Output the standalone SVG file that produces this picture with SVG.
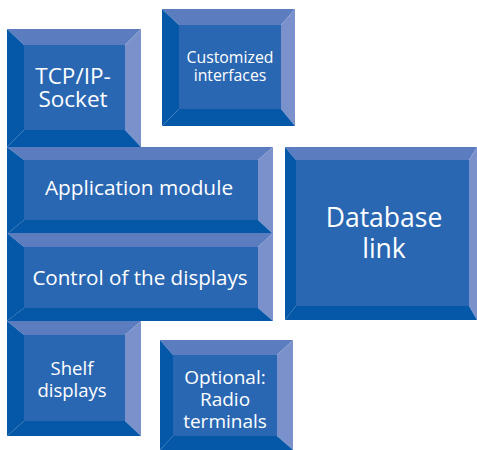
<svg xmlns="http://www.w3.org/2000/svg" width="477" height="450" viewBox="0 0 477 450">
<style>
.t{fill:#5b7dbf}.r{fill:#7a91cb}.b{fill:#0557a8}.l{fill:#0557a8}.f{fill:#2a67b3}
text{font-family:"Open Sans","Noto Sans","Liberation Sans",sans-serif;fill:#ffffff;text-anchor:middle}
</style>
<rect width="477" height="450" fill="#ffffff"/>
<g id="tcp">
<polygon class="t" points="7,29 141,29 125,45 24,45"/>
<polygon class="r" points="141,29 141,147 125,130 125,45"/>
<polygon class="b" points="7,147 141,147 125,130 24,130"/>
<polygon class="l" points="7,29 24,45 24,130 7,147"/>
<rect class="f" x="24" y="45" width="101" height="85"/>
<text font-size="22.5"><tspan x="73" y="84">TCP/IP-</tspan><tspan x="73" y="107">Socket</tspan></text>
</g>
<g id="custom">
<polygon class="t" points="162,9 295,9 281,25 179,25"/>
<polygon class="r" points="295,9 295,126 281,109 281,25"/>
<polygon class="b" points="162,126 295,126 281,109 179,109"/>
<polygon class="l" points="162,9 179,25 179,109 162,126"/>
<rect class="f" x="179" y="25" width="102" height="84"/>
<text font-size="15.8"><tspan x="230" y="63">Customized</tspan><tspan x="230" y="81">interfaces</tspan></text>
</g>
<g id="app">
<polygon class="t" points="7,147 273,147 258,160 24,160"/>
<polygon class="r" points="273,147 273,234 258,220 258,160"/>
<polygon class="b" points="7,234 273,234 258,220 24,220"/>
<polygon class="l" points="7,147 24,160 24,220 7,234"/>
<rect class="f" x="24" y="160" width="234" height="60"/>
<text x="139" y="195" font-size="20.8">Application module</text>
</g>
<g id="control">
<polygon class="t" points="7,233 273,233 258,247 24,247"/>
<polygon class="r" points="273,233 273,321 258,308 258,247"/>
<polygon class="b" points="7,321 273,321 258,308 24,308"/>
<polygon class="l" points="7,233 24,247 24,308 7,321"/>
<rect class="f" x="24" y="247" width="234" height="61"/>
<text x="140" y="285" font-size="20.6">Control of the displays</text>
</g>
<g id="shelf">
<polygon class="t" points="7,321 141,321 125,335 24,335"/>
<polygon class="r" points="141,321 141,436 125,421 125,335"/>
<polygon class="b" points="7,436 141,436 125,421 24,421"/>
<polygon class="l" points="7,321 24,335 24,421 7,436"/>
<rect class="f" x="24" y="335" width="101" height="86"/>
<text font-size="18.5"><tspan x="72" y="375">Shelf</tspan><tspan x="72" y="397">displays</tspan></text>
</g>
<g id="optional">
<polygon class="t" points="160,340 293,340 277,355 173,355"/>
<polygon class="r" points="293,340 293,450 277,436 277,355"/>
<polygon class="b" points="160,450 293,450 277,436 173,436"/>
<polygon class="l" points="160,340 173,355 173,436 160,450"/>
<rect class="f" x="173" y="355" width="104" height="81"/>
<text font-size="19"><tspan x="225" y="384">Optional:</tspan><tspan x="225" y="406">Radio</tspan><tspan x="225" y="428">terminals</tspan></text>
</g>
<g id="database">
<polygon class="t" points="285,147 477,147 469,160 296,160"/>
<polygon class="r" points="477,147 477,320 469,306 469,160"/>
<polygon class="b" points="285,320 477,320 469,306 296,306"/>
<polygon class="l" points="285,147 296,160 296,306 285,320"/>
<rect class="f" x="296" y="160" width="173" height="146"/>
<text font-size="26.5"><tspan x="384" y="227">Database</tspan><tspan x="384" y="258">link</tspan></text>
</g>
</svg>
